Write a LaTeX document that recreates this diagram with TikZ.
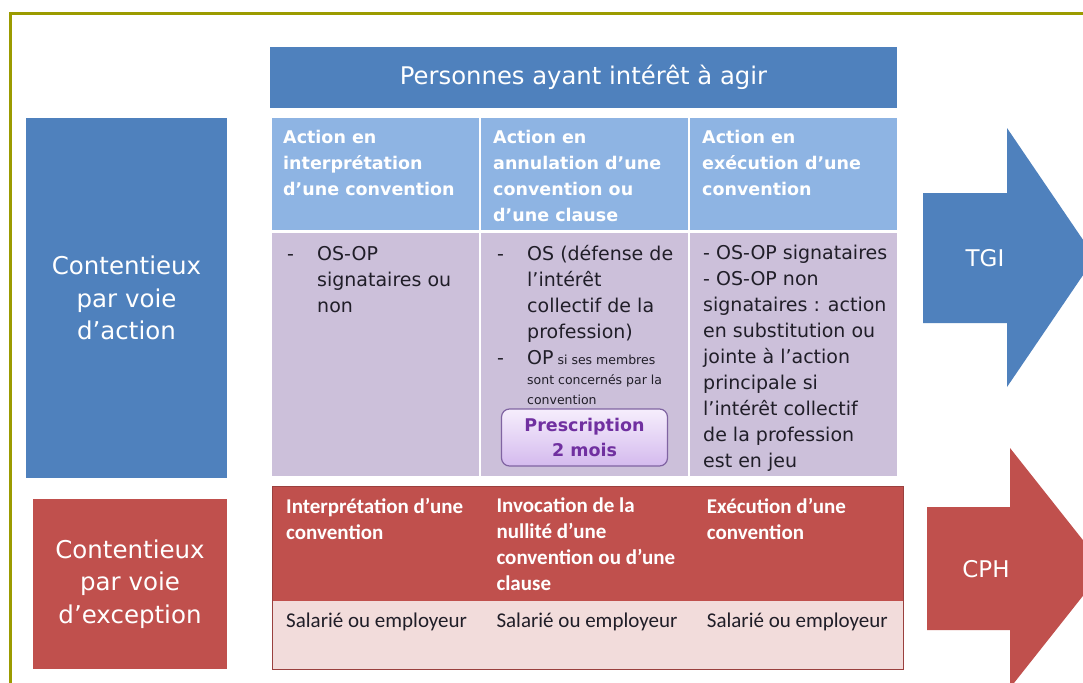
\documentclass[tikz,border=0pt]{standalone}
\usepackage{fontspec}
\setmainfont{DejaVu Sans}
\newfontfamily\calibri{Carlito}
\usepackage{xcolor}
\usetikzlibrary{positioning, calc}

\definecolor{blueA}{RGB}{79,129,189}
\definecolor{blueHead}{RGB}{142,180,227}
\definecolor{lavender}{RGB}{204,192,218}
\definecolor{redA}{RGB}{192,80,77}
\definecolor{pinkA}{RGB}{242,220,219}
\definecolor{oliveFrame}{RGB}{155,155,0}
\definecolor{textDark}{RGB}{32,30,40}
\definecolor{presBorder}{RGB}{128,100,162}
\definecolor{presText}{RGB}{112,48,160}
\definecolor{presTop}{RGB}{246,238,252}
\definecolor{presBottom}{RGB}{212,186,238}

\begin{document}
\begin{tikzpicture}[
    x=1pt, y=-1pt,
    tabcell/.style={rectangle, inner sep=0pt, outer sep=0pt},
    titlebar/.style={tabcell, fill=blueA, minimum width=627pt, minimum height=61pt, text=white, font=\fontsize{24.3}{28}\selectfont},
    headcell/.style={tabcell, fill=blueHead, minimum width=207pt, minimum height=112pt},
    bodycell/.style={tabcell, fill=lavender, minimum width=207pt, minimum height=243pt},
    redcell/.style={tabcell, fill=redA, minimum width=210.33pt, minimum height=115pt},
    pinkcell/.style={tabcell, fill=pinkA, minimum width=210.33pt, minimum height=68pt},
    sidebox/.style={tabcell, text=white, align=center, font=\fontsize{24.5}{32.5}\selectfont},
    headtxt/.style={inner sep=0pt, align=left, text=white, font=\bfseries\fontsize{17.5}{26}\selectfont},
    bodytxt/.style={inner sep=0pt, align=left, text=textDark, font=\fontsize{19}{26}\selectfont},
    redtxt/.style={inner sep=0pt, align=left, text=white, font=\calibri\bfseries\fontsize{21}{26}\selectfont},
    pinktxt/.style={inner sep=0pt, align=left, text=textDark, font=\calibri\fontsize{21}{26}\selectfont},
    presbox/.style={tabcell, draw=presBorder, line width=1.2pt, rounded corners=8pt, top color=presTop, bottom color=presBottom, minimum width=166pt, minimum height=57pt, align=center, text=presText, font=\bfseries\fontsize{17.5}{25}\selectfont},
    courttxt/.style={text=white, font=\fontsize{23}{28}\selectfont}
]

% Canvas and frame
\clip (0,0) rectangle (1083,682);
\fill[white] (0,0) rectangle (1083,682);
\draw[oliveFrame, line width=3pt] (10,690) |- (1090,14);

% Title
\node[titlebar] (title) at (583.5,77.5) {Personnes ayant intérêt à agir};

% Header row
\node[headcell, below right=10pt and 2pt of title.south west] (h1) {};
\node[headcell, right=2pt of h1] (h2) {};
\node[headcell, right=2pt of h2] (h3) {};

% Body row
\node[bodycell, below=3pt of h1] (b1) {};
\node[bodycell, below=3pt of h2] (b2) {};
\node[bodycell, below=3pt of h3] (b3) {};

% Header texts
\node[headtxt, below right=12pt and 11pt of h1.north west] (h1txt) {Action en\\interprétation\\d’une convention};
\node[headtxt, below right=12pt and 12pt of h2.north west] (h2txt) {Action en\\annulation d’une\\convention ou\\d’une clause};
\node[headtxt, below right=12pt and 12pt of h3.north west] (h3txt) {Action en\\exécution d’une\\convention};

% Body texts
\node[bodytxt, below right=13pt and 15pt of b1.north west] (b1txt) {\makebox[30pt][l]{-}OS-OP\\\hspace*{30pt}signataires ou\\\hspace*{30pt}non};
\node[bodytxt, below right=12pt and 16pt of b2.north west] (b2txt) {\makebox[30pt][l]{-}OS (défense de\\\hspace*{30pt}l’intérêt\\\hspace*{30pt}collectif de la\\\hspace*{30pt}profession)};
\node[bodytxt, below right=117pt and 16pt of b2.north west, font=\fontsize{12.5}{20}\selectfont] (b2op) {\makebox[30pt][l]{\fontsize{19}{20}\selectfont -}{\fontsize{19}{20}\selectfont OP} si ses membres\\\hspace*{30pt}sont concernés par la\\\hspace*{30pt}convention};
\node[bodytxt, below right=12pt and 13pt of b3.north west] (b3txt) {- OS-OP signataires\\- OS-OP non\\signataires : action\\en substitution ou\\jointe à l’action\\principale si\\l’intérêt collectif\\de la profession\\est en jeu};

% Prescription
\node[presbox, above=10pt of b2.south] (pres) {Prescription\\2 mois};

% Side boxes
\node[sidebox, fill=blueA, minimum width=201pt, minimum height=360pt, below left=0pt and 45pt of h1.north west] (action) {Contentieux\\par voie\\d’action};
\node[sidebox, fill=redA, minimum width=194pt, minimum height=170pt, below left=21pt and 0pt of action.south east] (exception) {Contentieux\\par voie\\d’exception};

% Exception table
\node[redcell, below right=10pt and 0pt of b1.south west] (r1) {};
\node[redcell, right=0pt of r1] (r2) {};
\node[redcell, right=0pt of r2] (r3) {};
\node[pinkcell, below=0pt of r1] (p1) {};
\node[pinkcell, below=0pt of r2] (p2) {};
\node[pinkcell, below=0pt of r3] (p3) {};
\draw[redA!80!black, line width=0.8pt] (r1.north west) rectangle (p3.south east);

\node[redtxt, below right=12pt and 14pt of r1.north west] (r1txt) {Interprétation d’une\\convention};
\node[redtxt, below right=12pt and 14pt of r2.north west] (r2txt) {Invocation de la\\nullité d’une\\convention ou d’une\\clause};
\node[redtxt, below right=12pt and 14pt of r3.north west] (r3txt) {Exécution d’une\\convention};
\node[pinktxt, below right=12pt and 14pt of p1.north west] (p1txt) {Salarié ou employeur};
\node[pinktxt, below right=12pt and 14pt of p2.north west] (p2txt) {Salarié ou employeur};
\node[pinktxt, below right=12pt and 14pt of p3.north west] (p3txt) {Salarié ou employeur};

% Court arrows
\fill[blueA] (923,193) -- (1007,193) -- (1007,128) -- (1095,257.5) -- (1007,387) -- (1007,323) -- (923,323) -- cycle;
\node[courttxt] (tgi) at (985,258) {TGI};
\fill[redA] (927,507) -- (1010,507) -- (1010,448) -- (1105,568) -- (1010,688) -- (1010,630) -- (927,630) -- cycle;
\node[courttxt] (cph) at (986,569) {CPH};

\end{tikzpicture}
\end{document}
